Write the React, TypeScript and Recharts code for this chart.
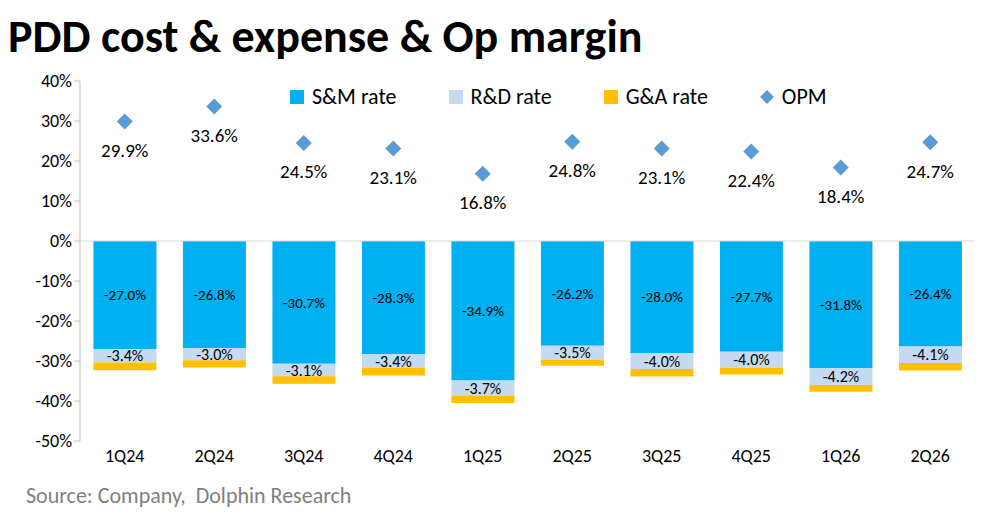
import React from "react";
import { ComposedChart, Bar, Line, XAxis, YAxis, LabelList, ReferenceLine } from "recharts";

const quarters = ["1Q24","2Q24","3Q24","4Q24","1Q25","2Q25","3Q25","4Q25","1Q26","2Q26"];
const smRate = [-27.0,-26.8,-30.7,-28.3,-34.9,-26.2,-28.0,-27.7,-31.8,-26.4];
const rdRate = [-3.4,-3.0,-3.1,-3.4,-3.7,-3.5,-4.0,-4.0,-4.2,-4.1];
const gaRate = [-1.9,-1.8,-1.9,-1.9,-1.9,-1.5,-1.9,-1.7,-1.7,-1.9];
const opm = [29.9,33.6,24.5,23.1,16.8,24.8,23.1,22.4,18.4,24.7];
const yTicks = [-50,-40,-30,-20,-10,0,10,20,30,40];

const data = quarters.map((q, i) => ({ q, sm: smRate[i], rd: rdRate[i], ga: gaRate[i], opm: opm[i] }));
const font = "Calibri, Lato, 'Liberation Sans', sans-serif";

const Diamond = (p: any) => {
  const { cx, cy } = p;
  if (cx == null || cy == null) return null;
  const s = 8;
  return <path d={`M${cx},${cy - s}L${cx + s},${cy}L${cx},${cy + s}L${cx - s},${cy}Z`} fill="#5B9BD5" />;
};

const items = [
  { n: "S&M rate", c: "#00B0F0", sq: true },
  { n: "R&D rate", c: "#C5D9F1", sq: true },
  { n: "G&A rate", c: "#FFC000", sq: true },
  { n: "OPM", c: "#5B9BD5", sq: false },
];

export default function App() {
  return (
    <div style={{ position: "absolute", left: 0, top: 0, width: 986, height: 515, background: "#fff", fontFamily: font }}>
      <div style={{ position: "absolute", left: 8, top: 10, fontSize: 46, fontWeight: "bold", color: "#000", lineHeight: "52px" }}>
        PDD cost &amp; expense &amp; Op margin
      </div>
      <div style={{ position: "absolute", left: 290, top: 83, display: "flex", gap: 52, fontSize: 22, color: "#000" }}>
        {items.map((it) => (
          <div key={it.n} style={{ display: "flex", alignItems: "center", gap: 8 }}>
            {it.sq ? (
              <div style={{ width: 14, height: 14, background: it.c }} />
            ) : (
              <svg width={14} height={14}><path d="M7,0L14,7L7,14L0,7Z" fill={it.c} /></svg>
            )}
            <span>{it.n}</span>
          </div>
        ))}
      </div>
      <ComposedChart width={986} height={480} data={data} margin={{ top: 81, right: 11, bottom: 9, left: 0 }} barCategoryGap="15%">
        <XAxis dataKey="q" axisLine={false} tickLine={false} height={30} tick={{ fontSize: 18, fill: "#000", fontFamily: font }} />
        <YAxis width={80} domain={[-50, 40]} ticks={yTicks} interval={0} tickFormatter={(v) => `${v}%`}
          axisLine={{ stroke: "#BFBFBF" }} tickLine={{ stroke: "#BFBFBF" }} tickSize={6}
          tick={{ fontSize: 18, fill: "#000", fontFamily: font }} />
        <ReferenceLine y={0} stroke="#D9D9D9" />
        <Bar dataKey="sm" stackId="a" fill="#00B0F0" isAnimationActive={false}>
          <LabelList dataKey="sm" position="center" formatter={(v: any) => `${Number(v).toFixed(1)}%`} style={{ fontSize: 15, fill: "#000", fontFamily: font }} />
        </Bar>
        <Bar dataKey="rd" stackId="a" fill="#C5D9F1" isAnimationActive={false}>
          <LabelList dataKey="rd" position="center" formatter={(v: any) => `${Number(v).toFixed(1)}%`} style={{ fontSize: 16, fill: "#000", fontFamily: font }} />
        </Bar>
        <Bar dataKey="ga" stackId="a" fill="#FFC000" isAnimationActive={false} />
        <Line dataKey="opm" stroke="none" dot={<Diamond />} activeDot={false} isAnimationActive={false}>
          <LabelList dataKey="opm" position="bottom" offset={22} formatter={(v: any) => `${Number(v).toFixed(1)}%`} style={{ fontSize: 19, fill: "#000", fontFamily: font }} />
        </Line>
      </ComposedChart>
      <div style={{ position: "absolute", left: 26, top: 482, fontSize: 22, color: "#7F7F7F" }}>
        Source: Company,&nbsp; Dolphin Research
      </div>
    </div>
  );
}
